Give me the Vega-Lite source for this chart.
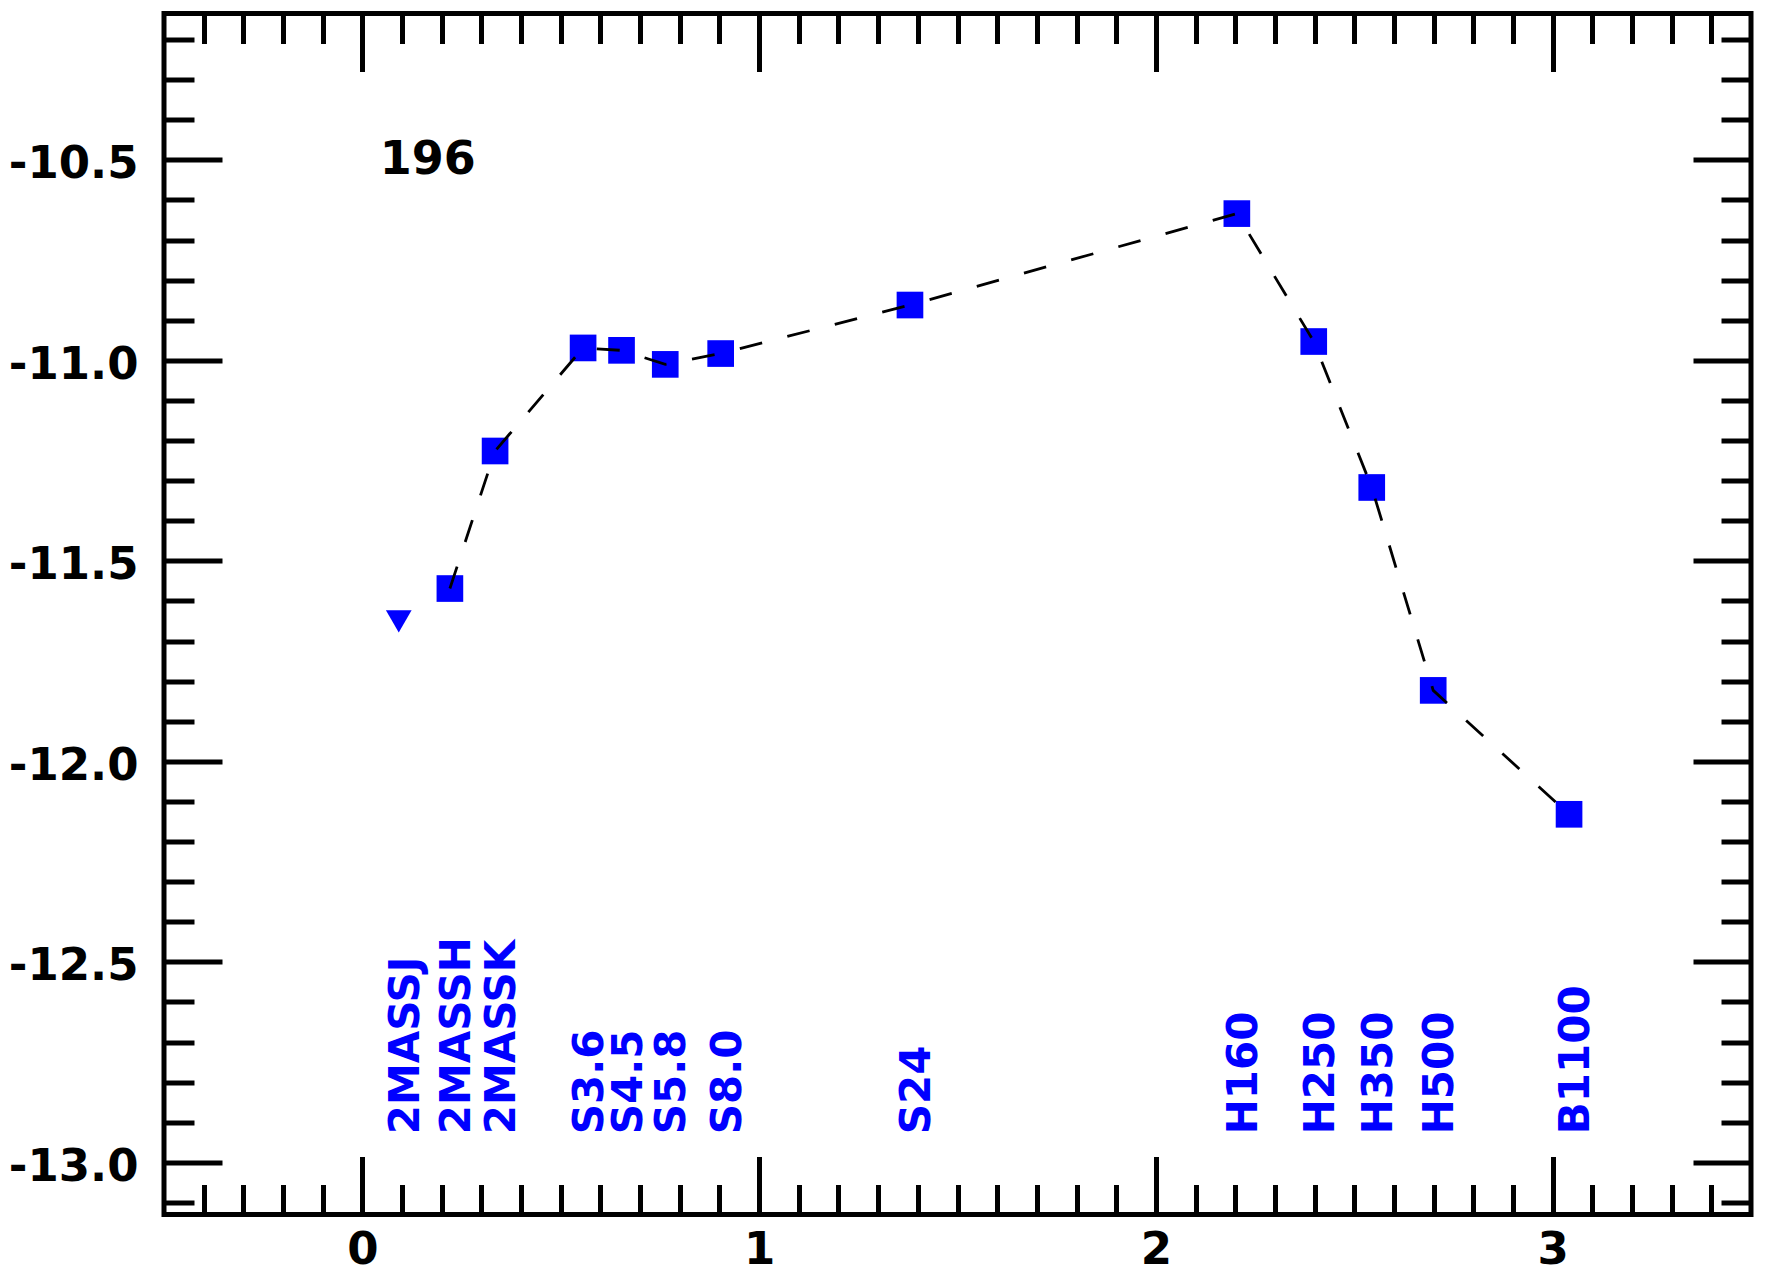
{
  "$schema": "https://vega.github.io/schema/vega-lite/v6.json",
  "width": 1587,
  "height": 1201,
  "autosize": {"type": "none"},
  "padding": {"left": 164, "top": 13.5, "right": 15, "bottom": 60.5},
  "background": "white",
  "config": {
    "view": {"stroke": "black", "strokeWidth": 5},
    "axis": {
      "grid": false,
      "domain": false,
      "tickColor": "black",
      "tickWidth": 5,
      "tickCap": "butt",
      "labelFont": "DejaVu Sans",
      "labelFontWeight": "bold",
      "labelFontSize": 45,
      "labelColor": "black",
      "labelOverlap": false,
      "labelFlush": false
    }
  },
  "datasets": {
    "bands": [
      {"band": "2MASSJ", "wave": 0.0917, "flux": -11.651, "kind": "lim"},
      {"band": "2MASSH", "wave": 0.2206, "flux": -11.569, "kind": "det"},
      {"band": "2MASSK", "wave": 0.3345, "flux": -11.226, "kind": "det"},
      {"band": "S3.6", "wave": 0.5563, "flux": -10.969, "kind": "det"},
      {"band": "S4.5", "wave": 0.6532, "flux": -10.975, "kind": "det"},
      {"band": "S5.8", "wave": 0.7634, "flux": -11.010, "kind": "det"},
      {"band": "S8.0", "wave": 0.9031, "flux": -10.983, "kind": "det"},
      {"band": "S24", "wave": 1.3802, "flux": -10.862, "kind": "det"},
      {"band": "H160", "wave": 2.2041, "flux": -10.634, "kind": "det"},
      {"band": "H250", "wave": 2.3979, "flux": -10.953, "kind": "det"},
      {"band": "H350", "wave": 2.5441, "flux": -11.317, "kind": "det"},
      {"band": "H500", "wave": 2.6990, "flux": -11.823, "kind": "det"},
      {"band": "B1100", "wave": 3.0414, "flux": -12.132, "kind": "det"}
    ]
  },
  "data": {"name": "bands"},
  "layer": [
    {
      "transform": [{"filter": "datum.kind === 'det'"}],
      "mark": {"type": "point", "shape": "square", "filled": true, "size": 711, "color": "#0000ff", "opacity": 1, "strokeWidth": 0},
      "encoding": {
        "x": {"field": "wave", "type": "quantitative", "title": null,
          "scale": {"domain": [-0.5, 3.5], "nice": false, "zero": false},
          "axis": {"orient": "bottom", "values": [0, 1, 2, 3], "labels": false, "tickSize": -58}},
        "y": {"field": "flux", "type": "quantitative", "title": null,
          "scale": {"domain": [-13.13, -10.135], "nice": false, "zero": false},
          "axis": {"orient": "left", "values": [-13, -12.5, -12, -11.5, -11, -10.5], "labels": false, "tickSize": -58}}
      }
    },
    {
      "transform": [{"filter": "datum.kind === 'lim'"}],
      "mark": {"type": "point", "shape": "triangle-down", "filled": true, "size": 660, "color": "#0000ff", "opacity": 1, "strokeWidth": 0},
      "encoding": {
        "x": {"field": "wave", "type": "quantitative", "title": null,
          "scale": {"domain": [-0.5, 3.5], "nice": false, "zero": false},
          "axis": {"orient": "bottom", "labels": false, "tickSize": -30,
            "values": [-0.4, -0.3, -0.2, -0.1, 0.1, 0.2, 0.3, 0.4, 0.5, 0.6, 0.7, 0.8, 0.9, 1.1, 1.2, 1.3, 1.4, 1.5, 1.6, 1.7, 1.8, 1.9, 2.1, 2.2, 2.3, 2.4, 2.5, 2.6, 2.7, 2.8, 2.9, 3.1, 3.2, 3.3, 3.4]}},
        "y": {"field": "flux", "type": "quantitative", "title": null,
          "scale": {"domain": [-13.13, -10.135], "nice": false, "zero": false},
          "axis": {"orient": "left", "labels": false, "tickSize": -30,
            "values": [-13.1, -12.9, -12.8, -12.7, -12.6, -12.4, -12.3, -12.2, -12.1, -11.9, -11.8, -11.7, -11.6, -11.4, -11.3, -11.2, -11.1, -10.9, -10.8, -10.7, -10.6, -10.4, -10.3, -10.2]}}
      }
    },
    {
      "transform": [{"filter": "datum.kind === 'det'"}],
      "mark": {"type": "line", "color": "black", "strokeWidth": 2.8, "strokeDash": [23, 26], "strokeCap": "butt"},
      "encoding": {
        "x": {"field": "wave", "type": "quantitative", "title": null,
          "scale": {"domain": [-0.5, 3.5], "nice": false, "zero": false},
          "axis": {"orient": "bottom", "values": [0, 1, 2, 3], "ticks": false, "labelPadding": 13, "format": "d"}},
        "y": {"field": "flux", "type": "quantitative", "title": null,
          "scale": {"domain": [-13.13, -10.135], "nice": false, "zero": false},
          "axis": {"orient": "left", "values": [-13, -12.5, -12, -11.5, -11, -10.5], "ticks": false, "labelPadding": 26, "labelOffset": 4, "format": ".1f", "labelExpr": "replace(datum.label, '\u2212', '-')"}}
      }
    },
    {
      "mark": {"type": "text", "angle": 270, "align": "left", "baseline": "middle", "dy": 7, "font": "DejaVu Sans", "fontWeight": "bold", "fontSize": 42, "color": "#0000ff"},
      "encoding": {
        "x": {"field": "wave", "type": "quantitative", "title": null,
          "scale": {"domain": [-0.5, 3.5], "nice": false, "zero": false},
          "axis": {"orient": "top", "values": [0, 1, 2, 3], "labels": false, "tickSize": -58}},
        "y": {"datum": -12.93, "type": "quantitative", "title": null,
          "scale": {"domain": [-13.13, -10.135], "nice": false, "zero": false},
          "axis": {"orient": "right", "values": [-13, -12.5, -12, -11.5, -11, -10.5], "labels": false, "tickSize": -58}},
        "text": {"field": "band"}
      }
    },
    {
      "data": {"values": [{"label": "196"}]},
      "mark": {"type": "text", "align": "center", "baseline": "middle", "font": "DejaVu Sans", "fontWeight": "bold", "fontSize": 46, "color": "black"},
      "encoding": {
        "x": {"datum": 0.165, "type": "quantitative", "title": null,
          "scale": {"domain": [-0.5, 3.5], "nice": false, "zero": false},
          "axis": {"orient": "top", "labels": false, "tickSize": -30,
            "values": [-0.4, -0.3, -0.2, -0.1, 0.1, 0.2, 0.3, 0.4, 0.5, 0.6, 0.7, 0.8, 0.9, 1.1, 1.2, 1.3, 1.4, 1.5, 1.6, 1.7, 1.8, 1.9, 2.1, 2.2, 2.3, 2.4, 2.5, 2.6, 2.7, 2.8, 2.9, 3.1, 3.2, 3.3, 3.4]}},
        "y": {"datum": -10.5, "type": "quantitative", "title": null,
          "scale": {"domain": [-13.13, -10.135], "nice": false, "zero": false},
          "axis": {"orient": "right", "labels": false, "tickSize": -30,
            "values": [-13.1, -12.9, -12.8, -12.7, -12.6, -12.4, -12.3, -12.2, -12.1, -11.9, -11.8, -11.7, -11.6, -11.4, -11.3, -11.2, -11.1, -10.9, -10.8, -10.7, -10.6, -10.4, -10.3, -10.2]}},
        "text": {"field": "label"}
      }
    }
  ],
  "resolve": {"axis": {"x": "independent", "y": "independent"}}
}
